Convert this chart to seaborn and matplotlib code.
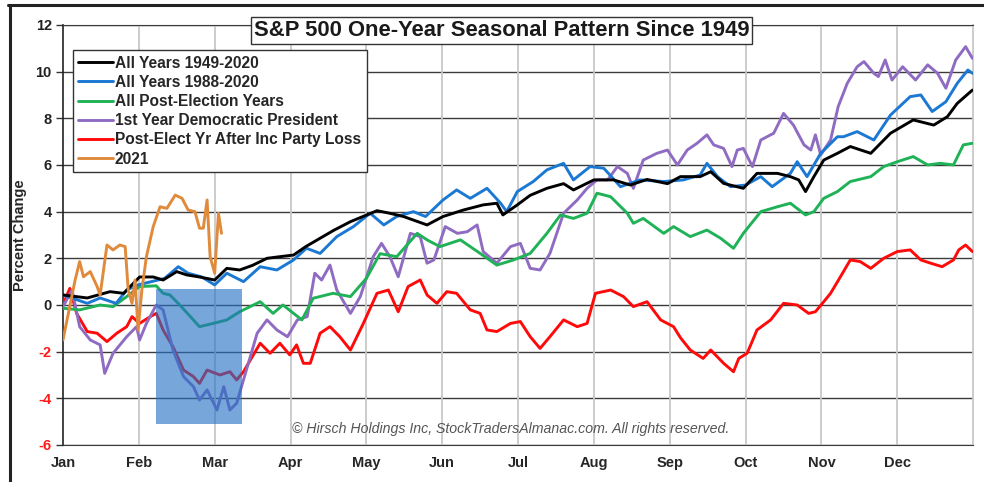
import numpy as np
import pandas as pd
import seaborn as sns
from matplotlib import pyplot as plt
from matplotlib.patches import Rectangle
from matplotlib.lines import Line2D

# x = months since Jan 1 (0..12), y = percent change
black_x = [0.0, 0.32, 0.62, 0.8, 1.01, 1.19, 1.32, 1.5, 1.63, 1.8, 2.0, 2.16, 2.33, 2.5, 2.69, 2.86, 3.04, 3.2, 3.39, 3.57,
           3.79, 4.14, 4.31, 4.49, 4.8, 5.01, 5.28, 5.54, 5.72, 5.8, 5.99, 6.16, 6.38, 6.6, 6.73, 7.0, 7.26, 7.48, 7.7, 7.97,
           8.14, 8.4, 8.54, 8.71, 8.97, 9.15, 9.42, 9.59, 9.7, 9.79, 9.9, 10.03, 10.21, 10.38, 10.65, 10.91, 11.21, 11.48,
           11.66, 11.79, 11.99]
black_y = [0.43, 0.3, 0.57, 0.5, 1.2, 1.2, 1.07, 1.43, 1.29, 1.2, 1.07, 1.57, 1.5, 1.7, 2.0, 2.07, 2.14, 2.5, 2.86, 3.2,
           3.57, 4.04, 3.93, 3.79, 3.43, 3.79, 4.07, 4.29, 4.36, 3.86, 4.29, 4.7, 5.0, 5.2, 4.93, 5.36, 5.36, 5.14, 5.38, 5.2,
           5.5, 5.5, 5.71, 5.21, 5.0, 5.64, 5.64, 5.5, 5.36, 4.86, 5.5, 6.21, 6.5, 6.79, 6.5, 7.36, 7.93, 7.71,
           8.07, 8.64, 9.21]

blue_x = [0.0, 0.32, 0.49, 0.7, 0.84, 0.99, 1.34, 1.52, 1.65, 1.83, 2.0, 2.16, 2.38, 2.6, 2.82, 3.04, 3.21, 3.39, 3.61, 3.83,
          4.05, 4.23, 4.4, 4.62, 4.78, 5.01, 5.19, 5.37, 5.59, 5.77, 5.85, 5.99, 6.2, 6.38, 6.6, 6.73, 6.95, 7.13, 7.35, 7.61,
          7.92, 8.18, 8.4, 8.49, 8.63, 8.8, 9.0, 9.2, 9.35, 9.59, 9.68, 9.81, 9.99, 10.21, 10.29, 10.47, 10.69, 10.91, 11.17,
          11.31, 11.46, 11.64, 11.79, 11.93, 11.99]
blue_y = [0.43, 0.07, 0.3, 0.07, 0.64, 0.86, 1.14, 1.64, 1.36, 1.2, 0.86, 1.36, 1.0, 1.64, 1.5, 1.93, 2.43, 2.21, 2.93, 3.36,
          3.93, 3.43, 3.79, 4.0, 3.79, 4.5, 4.93, 4.57, 5.0, 4.36, 4.0, 4.86, 5.29, 5.79, 6.07, 5.36, 5.93, 5.86, 5.07, 5.36,
          5.29, 5.36, 5.57, 6.07, 5.5, 5.07, 5.14, 5.5, 5.07, 5.64, 6.14, 5.5, 6.5, 7.21, 7.21, 7.43, 7.07, 8.14, 8.93,
          9.0, 8.29, 8.71, 9.5, 10.07, 9.93]

green_x = [0.0, 0.22, 0.49, 0.66, 0.84, 1.01, 1.23, 1.32, 1.41, 1.54, 1.68, 1.8, 1.98, 2.16, 2.33, 2.6, 2.77, 2.9, 3.15, 3.3,
           3.56, 3.79, 4.0, 4.18, 4.4, 4.67, 4.8, 4.97, 5.24, 5.5, 5.72, 5.94, 6.16, 6.38, 6.56, 6.73, 6.91, 7.04, 7.22, 7.44,
           7.52, 7.65, 7.92, 8.05, 8.27, 8.49, 8.67, 8.84, 8.97, 9.2, 9.42, 9.59, 9.79, 9.9, 10.03, 10.21, 10.38, 10.65, 10.82,
           11.0, 11.21, 11.4, 11.57, 11.74, 11.87, 11.99]
green_y = [-0.14, -0.21, 0.0, -0.07, 0.36, 0.79, 0.82, 0.5, 0.43, 0.0, -0.5, -0.93, -0.79, -0.64, -0.29, 0.14, -0.36, 0.0, -0.64, 0.29,
           0.5, 0.36, 1.14, 2.2, 2.07, 3.07, 2.79, 2.5, 2.79, 2.21, 1.71, 1.93, 2.21, 3.07, 3.86, 3.71, 3.93, 4.79, 4.64, 3.93,
           3.5, 3.71, 3.07, 3.36, 2.93, 3.21, 2.86, 2.43, 3.07, 4.0, 4.21, 4.36, 3.86, 4.0, 4.57, 4.86, 5.29, 5.5, 5.93,
           6.14, 6.36, 6.0, 6.07, 6.0, 6.86, 6.93]

purple_x = [0.0, 0.12, 0.22, 0.36, 0.49, 0.55, 0.66, 0.84, 0.97, 1.01, 1.1, 1.23, 1.32, 1.45, 1.59, 1.72, 1.8, 1.9, 2.03, 2.12,
            2.2, 2.29, 2.38, 2.56, 2.69, 2.82, 2.96, 3.09, 3.22, 3.32, 3.41, 3.52, 3.61, 3.79, 3.92, 4.09, 4.2, 4.31, 4.42, 4.58,
            4.71, 4.8, 4.89, 5.04, 5.2, 5.33, 5.46, 5.54, 5.72, 5.9, 6.03, 6.16, 6.29, 6.42, 6.6, 6.78, 6.91, 7.04, 7.18, 7.31,
            7.44, 7.52, 7.65, 7.83, 7.97, 8.1, 8.23, 8.36, 8.49, 8.58, 8.71, 8.82, 8.89, 8.97, 9.09, 9.2, 9.37, 9.5, 9.63, 9.77,
            9.86, 9.92, 9.99, 10.12, 10.22, 10.34, 10.47, 10.56, 10.69, 10.75, 10.84, 10.93, 11.07, 11.24, 11.4, 11.53, 11.64,
            11.77, 11.9, 11.99]
purple_y = [-0.07, 0.64, -0.93, -1.5, -1.71, -2.93, -2.07, -1.36, -0.93, -1.5, -0.79, 0.0, -0.21, -1.93, -3.07, -3.5, -4.07, -3.64, -4.5, -3.5,
            -4.5, -4.21, -3.21, -1.21, -0.64, -1.07, -1.36, -0.64, -0.5, 1.36, 1.07, 1.71, 0.64, -0.36, 0.36, 2.07, 2.64, 2.07, 1.21, 3.07,
            2.93, 1.79, 1.93, 3.36, 3.07, 3.14, 3.43, 2.29, 1.79, 2.5, 2.64, 1.57, 1.5, 2.21, 3.93, 4.5, 5.0, 5.36, 5.36, 5.93,
            5.64, 5.0, 6.21, 6.5, 6.64, 6.0, 6.64, 6.93, 7.29, 6.86, 6.71, 5.93, 6.64, 6.71, 5.93, 7.07, 7.36, 8.21, 7.71, 6.86,
            6.64, 7.29, 6.43, 7.07, 8.5, 9.5, 10.21, 10.43, 9.93, 9.79, 10.5, 9.64, 10.21, 9.64, 10.29, 9.93, 9.29,
            10.5, 11.07, 10.57]

red_x = [0.0, 0.09, 0.18, 0.32, 0.45, 0.58, 0.71, 0.84, 0.91, 1.01, 1.15, 1.23, 1.32, 1.45, 1.59, 1.72, 1.8, 1.9, 2.07, 2.2,
         2.29, 2.38, 2.47, 2.6, 2.73, 2.86, 2.99, 3.08, 3.17, 3.26, 3.39, 3.52, 3.65, 3.79, 3.96, 4.14, 4.29, 4.42, 4.55, 4.71,
         4.8, 4.93, 5.06, 5.19, 5.37, 5.5, 5.59, 5.72, 5.9, 6.03, 6.16, 6.29, 6.42, 6.6, 6.78, 6.91, 7.02, 7.22, 7.39, 7.52,
         7.7, 7.88, 8.05, 8.14, 8.27, 8.44, 8.54, 8.71, 8.84, 8.91, 9.02, 9.15, 9.33, 9.5, 9.68, 9.83, 9.92, 10.03, 10.12, 10.25,
         10.38, 10.51, 10.65, 10.82, 11.0, 11.17, 11.31, 11.44, 11.59, 11.74, 11.81, 11.9, 11.99]
red_y = [0.0, 0.71, -0.36, -1.14, -1.21, -1.57, -1.21, -0.93, -0.5, -0.79, -0.5, -0.36, -1.07, -1.79, -2.79, -3.07, -3.36, -2.79, -3.0, -2.86,
         -3.21, -2.86, -2.36, -1.64, -2.07, -1.64, -2.14, -1.71, -2.5, -2.5, -1.21, -0.93, -1.36, -1.93, -0.79, 0.5, 0.64, -0.29, 0.79, 1.07,
         0.43, 0.07, 0.57, 0.5, -0.21, -0.36, -1.07, -1.14, -0.79, -0.71, -1.36, -1.86, -1.36, -0.64, -0.93, -0.79, 0.5, 0.64, 0.36, -0.07,
         0.14, -0.64, -0.93, -1.4, -1.93, -2.29, -1.93, -2.5, -2.86, -2.29, -2.07, -1.07, -0.64, 0.07, 0.0, -0.36, -0.29, 0.14, 0.5, 1.21,
         1.93, 1.86, 1.57, 2.0, 2.29, 2.36, 1.93, 1.79, 1.64, 1.93, 2.36, 2.57, 2.29]

orange_x = [0.0, 0.16, 0.22, 0.27, 0.36, 0.45, 0.49, 0.58, 0.66, 0.75, 0.82, 0.86, 0.91, 0.95, 0.99, 1.04, 1.1, 1.19, 1.28, 1.37,
            1.48, 1.57, 1.65, 1.74, 1.8, 1.85, 1.9, 1.94, 2.0, 2.05, 2.09]
orange_y = [-1.5, 1.07, 1.86, 1.21, 1.43, 0.79, 0.43, 2.57, 2.36, 2.57, 2.5, 0.64, 0.07, 1.07, -1.07, 0.64, 2.07, 3.36, 4.21, 4.14,
            4.71, 4.57, 4.07, 4.0, 3.29, 3.29, 4.5, 2.07, 1.36, 3.93, 3.07]

series_names = ['All Years 1949-2020', 'All Years 1988-2020', 'All Post-Election Years',
                '1st Year Democratic President', 'Post-Elect Yr After Inc Party Loss', '2021']
series_colors = ['#000000', '#1b78d3', '#1fb257', '#8f6cc2', '#ff0a0a', '#e08a3c']
months = ['Jan', 'Feb', 'Mar', 'Apr', 'May', 'Jun', 'Jul', 'Aug', 'Sep', 'Oct', 'Nov', 'Dec']
y_ticks = [-6, -4, -2, 0, 2, 4, 6, 8, 10, 12]

xs = [black_x, blue_x, green_x, purple_x, red_x, orange_x]
ys = [black_y, blue_y, green_y, purple_y, red_y, orange_y]
df = pd.concat([pd.DataFrame({'month': x, 'pct': y, 'series': n})
                for x, y, n in zip(xs, ys, series_names)], ignore_index=True)

sns.set_style('white')
plt.rcParams['font.family'] = ['Liberation Sans', 'DejaVu Sans']

fig = plt.figure(figsize=(9.84, 4.82), dpi=100)
ax = fig.add_axes([0.064, 0.0768, 0.925, 0.8714])

# draw back to front so black ends up on top
zorders = [8, 7, 6, 5, 4, 9]
for name, color, z in zip(series_names, series_colors, zorders):
    sns.lineplot(data=df[df['series'] == name], x='month', y='pct', color=color,
                 sort=False, estimator=None, linewidth=2.1, ax=ax, zorder=z, label=name)

# shaded Feb-Mar window
ax.add_patch(Rectangle((1.23, -5.1), 1.13, 5.8, facecolor='#2370c4', alpha=0.62,
                       edgecolor='none', zorder=10))

ax.set_xlim(0, 12)
ax.set_ylim(-6, 12)
ax.set_xticks(range(12))
ax.set_xticklabels(months, fontweight='bold', fontsize=10.5)
ax.set_yticks(y_ticks)
ax.set_yticklabels([str(t) for t in y_ticks], fontweight='bold', fontsize=10.5)
for lab, t in zip(ax.get_yticklabels(), y_ticks):
    lab.set_color('#ff1a1a' if t < 0 else '#222222')
ax.tick_params(axis='x', length=0, pad=8)
ax.tick_params(axis='y', length=5, width=1, color='#333333', pad=3, direction='out', left=True)

for t in y_ticks:
    ax.axhline(t, color='#3c3c3c', lw=1.0, zorder=1)
for m in range(1, 12):
    ax.axvline(m, color='#c8c8c8', lw=1.3, zorder=1)

ax.spines['left'].set_color('#222222')
ax.spines['left'].set_linewidth(1.2)
ax.spines['bottom'].set_color('#3c3c3c')
ax.spines['top'].set_color('#3c3c3c')
ax.spines['right'].set_color('#c8c8c8')
ax.spines['right'].set_linewidth(1.3)

ax.set_xlabel('')
ax.set_ylabel('Percent Change', fontweight='bold', fontsize=10.5, labelpad=6)

handles, labels = ax.get_legend_handles_labels()
leg = ax.legend(handles, labels, loc='upper left', bbox_to_anchor=(0.011, 0.94), borderaxespad=0,
                frameon=True, fancybox=False, edgecolor='#333333', framealpha=1,
                prop={'weight': 'bold', 'size': 11.2}, handlelength=2.2, handletextpad=0.15,
                labelspacing=0.27, borderpad=0.35)
leg.get_frame().set_linewidth(1.0)
leg.set_zorder(20)

ax.text(0.482, 0.987, 'S&P 500 One-Year Seasonal Pattern Since 1949', transform=ax.transAxes,
        ha='center', va='center', fontsize=15.8, fontweight='bold', color='#1a1a1a', zorder=21,
        bbox=dict(boxstyle='square,pad=0.12', facecolor='white', edgecolor='#333333', linewidth=1.0))

ax.text(0.492, 0.038, '\u00a9 Hirsch Holdings Inc, StockTradersAlmanac.com. All rights reserved.',
        transform=ax.transAxes, ha='center', va='center', fontsize=10.2, style='italic', color='#555555', zorder=21)

# outer frame of the original image
fig.add_artist(Line2D([0.008, 1.0], [0.99, 0.99], transform=fig.transFigure, color='#222222', lw=2.2))
fig.add_artist(Line2D([0.0105, 0.0105], [0.0, 0.99], transform=fig.transFigure, color='#222222', lw=2.2))

fig.savefig('out.png', dpi=100)
